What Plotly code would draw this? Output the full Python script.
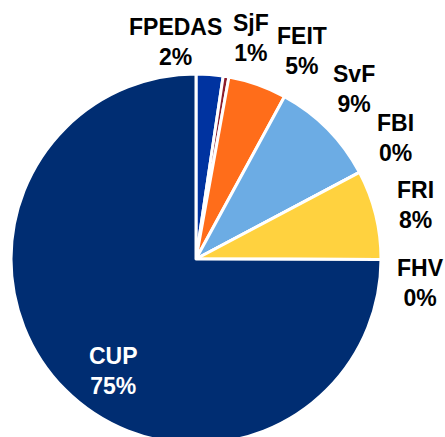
import plotly.graph_objects as go

labels = ["FPEDAS", "SjF", "FEIT", "SvF", "FBI", "FRI", "FHV", "CUP"]
values = [2.35, 0.5, 5.1, 9.3, 0.0, 7.8, 0.0, 75.0]
pct_text = ["2%", "1%", "5%", "9%", "0%", "8%", "0%", "75%"]
colors = ["#0033A0", "#8B1C2C", "#FF6D1A", "#6CACE4", "#A5A5A5", "#FFD23F", "#7F7F7F", "#002D72"]

W, H = 445, 445
# label block centres in pixels (text placement only)
label_pos = {
    "FPEDAS": (175, 42), "SjF": (251, 38), "FEIT": (302, 51), "SvF": (354, 89),
    "FBI": (395, 138), "FRI": (415, 205), "FHV": (420, 283), "CUP": (114, 371),
}

fig = go.Figure(go.Pie(
    labels=labels, values=values, sort=False, direction="clockwise", rotation=0,
    marker=dict(colors=colors, line=dict(color="white", width=3)),
    textinfo="none", hoverinfo="label+percent", showlegend=False,
    domain=dict(x=[11 / W, 381 / W], y=[1 - 444 / H, 1 - 74 / H]),
))

annotations = []
for lab, pt in zip(labels, pct_text):
    px, py = label_pos[lab]
    annotations.append(dict(
        x=px / W, y=1 - py / H, xref="paper", yref="paper", showarrow=False,
        text=f"<b>{lab}<br>{pt}</b>", align="center",
        font=dict(family="Liberation Sans, Arial, sans-serif", size=23,
                  color="white" if lab == "CUP" else "black"),
        xanchor="center", yanchor="middle",
    ))

fig.update_layout(
    width=W, height=H, margin=dict(l=0, r=0, t=0, b=0),
    paper_bgcolor="white", plot_bgcolor="white", annotations=annotations,
)

fig.write_html("out.html", config={"displayModeBar": False},
               post_script="document.body.style.margin='0';document.body.style.overflow='hidden';")
